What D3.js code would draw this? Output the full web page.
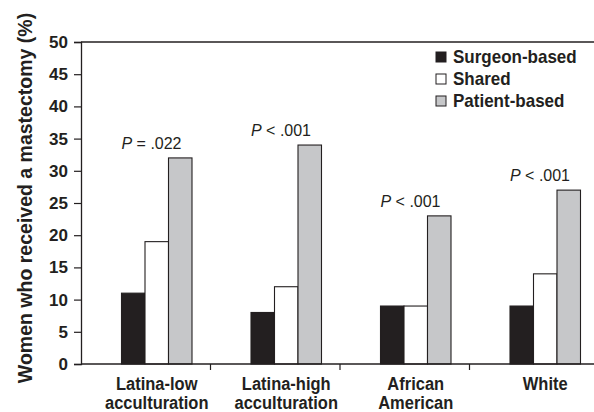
<!DOCTYPE html>
<html>
<head>
<meta charset="utf-8">
<script src="https://cdn.jsdelivr.net/npm/d3@7"></script>
<style>
  body{ margin:0; background:#fff; }
  svg text{ font-family: "Liberation Sans", Arial, sans-serif; fill:#231f20; }
</style>
</head>
<body>
<div id="chart"></div>
<script>
// data
var groups = [["Latina-low", "acculturation"], ["Latina-high", "acculturation"], ["African", "American"], ["White"]];
var series = ["Surgeon-based", "Shared", "Patient-based"];
var surgeon = [11, 8, 9, 9];
var shared = [19, 12, 9, 14];
var patient = [32, 34, 23, 27];
var pSign = ["=", "<", "<", "<"];
var pValue = [".022", ".001", ".001", ".001"];
var yTicks = [0, 5, 10, 15, 20, 25, 30, 35, 40, 45, 50];

var fills = ["#231f20", "#ffffff", "#c6c7c9"];
var values = [surgeon, shared, patient];

var width = 594, height = 412;
var plotLeft = 81, plotRight = 599, plotTop = 42, plotBottom = 364;

var svg = d3.select("#chart").append("svg")
    .attr("width", width)
    .attr("height", height);

// the source figure's lettering is a bit taller than it is wide
function stretch(sel, baseY, k){
  sel.attr("transform", "translate(0," + baseY + ") scale(1," + k + ") translate(0," + (-baseY) + ")");
}

var ids = groups.map((d, i) => i);

var x0 = d3.scaleBand()
    .domain(ids)
    .range([plotLeft, plotRight]);

// bars sit right of the band centre in the original
var x1 = d3.scaleBand()
    .domain(d3.range(series.length))
    .range([40.5, 111]);

var y = d3.scaleLinear()
    .domain([0, 50])
    .range([plotBottom, plotTop]);

// frame: top line
svg.append("line")
    .attr("x1", plotLeft).attr("x2", plotRight)
    .attr("y1", y(50)).attr("y2", y(50))
    .attr("stroke", "#231f20").attr("stroke-width", 1.3);

// bars
ids.forEach(function(i){
  var g = svg.append("g").attr("transform", "translate(" + x0(i) + ",0)");
  g.selectAll("rect")
      .data(series.map((s, k) => ({k: k, v: values[k][i]})))
      .enter()
      .append("rect")
      .attr("x", d => x1(d.k))
      .attr("y", d => y(d.v))
      .attr("width", x1.bandwidth())
      .attr("height", d => y(0) - y(d.v))
      .attr("fill", d => fills[d.k])
      .attr("stroke", "#231f20")
      .attr("stroke-width", 1.1);

  // p value label above the group
  var py = y(patient[i]) - 9;
  var t = g.append("text")
      .attr("x", x1(0))
      .attr("y", py)
      .style("font-size", "16px");
  t.append("tspan").style("font-style", "italic").text("P");
  t.append("tspan").text(" " + pSign[i] + " " + pValue[i]);
  stretch(t, py, 1.08);

  // category label
  groups[i].forEach(function(line, j){
    var by = 390.5 + j * 18;
    var lab = g.append("text")
        .attr("text-anchor", "middle")
        .attr("x", x1(1) + x1.bandwidth() / 2)
        .attr("y", by)
        .style("font-size", "16.5px")
        .style("font-weight", "bold")
        .text(line);
    stretch(lab, by, 1.12);
  });
});

// y axis
var yAxis = d3.axisLeft(y)
    .tickValues(yTicks)
    .tickSize(7)
    .tickPadding(6);

var ya = svg.append("g")
    .attr("transform", "translate(" + plotLeft + ",0)")
    .call(yAxis);
ya.select(".domain").attr("stroke", "#231f20").attr("stroke-width", 1.3);
ya.selectAll(".tick line").attr("stroke", "#231f20").attr("stroke-width", 1.2);
ya.selectAll(".tick text")
    .style("font-size", "17px")
    .style("font-weight", "bold")
    .style("font-family", "'Liberation Sans', Arial, sans-serif")
    .attr("fill", "#231f20");

// x axis with ticks between groups
var xa = svg.append("g")
    .attr("transform", "translate(0," + plotBottom + ")");
xa.append("line")
    .attr("x1", plotLeft).attr("x2", plotRight)
    .attr("stroke", "#231f20").attr("stroke-width", 1.3);
xa.selectAll(".sep")
    .data(ids.slice(1))
    .enter()
    .append("line")
    .attr("class", "sep")
    .attr("x1", d => x0(d)).attr("x2", d => x0(d))
    .attr("y1", 0).attr("y2", 6)
    .attr("stroke", "#231f20").attr("stroke-width", 1.2);

// y title
svg.append("text")
    .attr("transform", "translate(32," + 198 + ") rotate(-90)")
    .attr("text-anchor", "middle")
    .style("font-size", "19.5px")
    .style("font-weight", "bold")
    .text("Women who received a mastectomy (%)");

// legend
var legend = svg.append("g").attr("transform", "translate(436,57)");
var rows = legend.selectAll("g")
    .data(series)
    .enter()
    .append("g")
    .attr("transform", (d, i) => "translate(0," + i * 22 + ")");
rows.append("rect")
    .attr("x", 0).attr("y", -5)
    .attr("width", 10).attr("height", 10)
    .attr("fill", (d, i) => fills[i])
    .attr("stroke", "#231f20")
    .attr("stroke-width", 1);
rows.append("text")
    .attr("x", 17)
    .attr("y", 6)
    .style("font-size", "17px")
    .style("font-weight", "bold")
    .text(d => d)
    .each(function(){ stretch(d3.select(this), 6, 1.08); });
</script>
</body>
</html>
